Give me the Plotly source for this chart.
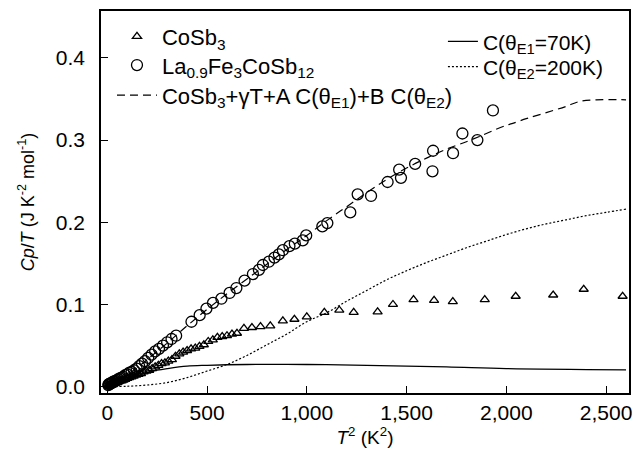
import plotly.graph_objects as go

# CoSb3 data (triangles)
cosb3_x = [5, 8, 12, 16, 20, 25, 30, 36, 42, 49, 56, 64, 72, 81, 90, 100, 110, 121, 132, 144,
           156, 169, 182, 196, 210, 225, 240, 256, 272, 289, 306, 324, 342, 361, 380, 400, 420,
           441, 462, 484, 506, 529, 552, 576, 600, 625, 650, 685, 725, 768, 817, 880, 938, 1000,
           1088, 1163, 1235, 1355, 1432, 1535, 1638, 1732, 1892, 2047, 2235, 2388, 2583]
cosb3_y = [0.001, 0.001, 0.002, 0.002, 0.003, 0.003, 0.004, 0.004, 0.005, 0.005, 0.006, 0.007,
           0.007, 0.008, 0.009, 0.010, 0.011, 0.012, 0.013, 0.014, 0.015, 0.016, 0.018, 0.019,
           0.020, 0.022, 0.024, 0.026, 0.028, 0.029, 0.031, 0.033, 0.037, 0.040, 0.042, 0.044,
           0.046, 0.047, 0.049, 0.051, 0.055, 0.057, 0.060, 0.061, 0.062, 0.064, 0.065, 0.071,
           0.072, 0.073, 0.074, 0.080, 0.082, 0.085, 0.0905, 0.093, 0.0905, 0.091, 0.100, 0.106,
           0.105, 0.1035, 0.106, 0.110, 0.1115, 0.1185, 0.110]

# La0.9Fe3CoSb12 data (circles)
la_x = [5, 8, 11, 15, 19, 24, 29, 35, 41, 48, 55, 63, 71, 80, 90, 100, 111, 122, 134, 147,
        160, 174, 189, 205, 222, 240, 259, 279, 300, 322, 345, 422, 463, 497, 530, 572, 613,
        647, 688, 730, 760, 780, 810, 838, 860, 880, 913, 940, 980, 997, 1078, 1103, 1218,
        1255, 1322, 1405, 1463, 1472, 1543, 1630, 1633, 1733, 1780, 1855, 1933]
la_y = [0.002, 0.003, 0.003, 0.004, 0.004, 0.005, 0.006, 0.006, 0.007, 0.008, 0.009, 0.010,
        0.011, 0.012, 0.014, 0.015, 0.017, 0.018, 0.020, 0.022, 0.025, 0.028, 0.031, 0.035,
        0.039, 0.043, 0.046, 0.050, 0.054, 0.058, 0.062, 0.079, 0.087, 0.095, 0.102, 0.107,
        0.114, 0.120, 0.129, 0.137, 0.142, 0.148, 0.152, 0.157, 0.161, 0.166, 0.171, 0.174,
        0.178, 0.184, 0.195, 0.199, 0.212, 0.234, 0.232, 0.249, 0.264, 0.254, 0.271, 0.262,
        0.287, 0.284, 0.308, 0.300, 0.336]

# Fit: CoSb3 + gamma T + A C(thetaE1) + B C(thetaE2)
fit_x = [0, 50, 100, 150, 200, 300, 400, 500, 600, 700, 800, 900, 1000, 1100, 1200, 1300,
         1400, 1500, 1600, 1700, 1800, 1862, 1900, 2000, 2028, 2100, 2195, 2300, 2363, 2450, 2600]
fit_y = [0.002, 0.008, 0.015, 0.023, 0.033, 0.053, 0.074, 0.094, 0.113, 0.131, 0.149, 0.167,
         0.184, 0.202, 0.219, 0.236, 0.252, 0.266, 0.278, 0.289, 0.298, 0.304, 0.308, 0.318,
         0.320, 0.326, 0.333, 0.341, 0.3467, 0.349, 0.349]

# Einstein term theta_E1 = 70 K
e1_x = [0, 50, 100, 150, 200, 250, 300, 400, 500, 700, 1000, 1300, 1700, 2000, 2600]
e1_y = [0.0, 0.003, 0.008, 0.013, 0.017, 0.020, 0.022, 0.025, 0.026, 0.027, 0.027, 0.026,
        0.024, 0.022, 0.0205]

# Einstein term theta_E2 = 200 K
e2_x = [0, 100, 200, 300, 400, 500, 600, 700, 800, 900, 1000, 1100, 1200, 1300, 1400, 1500,
        1600, 1700, 1800, 1900, 2000, 2100, 2200, 2300, 2400, 2500, 2600]
e2_y = [0.0, 0.0005, 0.002, 0.005, 0.011, 0.019, 0.027, 0.038, 0.051, 0.064, 0.079, 0.090,
        0.104, 0.117, 0.130, 0.141, 0.151, 0.160, 0.169, 0.177, 0.185, 0.192, 0.198, 0.203,
        0.208, 0.212, 0.216]

x_ticks = [0, 500, 1000, 1500, 2000, 2500]
x_tick_text = ["0", "500", "1,000", "1,500", "2,000", "2,500"]
y_ticks = [0.0, 0.1, 0.2, 0.3, 0.4]
y_tick_text = ["0.0", "0.1", "0.2", "0.3", "0.4"]

FONT = "Arial, Liberation Sans, sans-serif"
FS = 21
LFS = 22

fig = go.Figure()
fig.add_trace(go.Scatter(x=cosb3_x, y=cosb3_y, mode="markers", name="CoSb<sub>3</sub>",
                         marker=dict(symbol="triangle-up-open", size=8, color="black",
                                     line=dict(width=1.3, color="black")),
                         legend="legend", showlegend=True))
fig.add_trace(go.Scatter(x=la_x, y=la_y, mode="markers",
                         name="La<sub>0.9</sub>Fe<sub>3</sub>CoSb<sub>12</sub>",
                         marker=dict(symbol="circle-open", size=11, color="black",
                                     line=dict(width=1.3, color="black")),
                         legend="legend3", showlegend=True))
fig.add_trace(go.Scatter(x=fit_x, y=fit_y, mode="lines",
                         name="CoSb<sub>3</sub>+γT+A C(θ<sub>E1</sub>)+B C(θ<sub>E2</sub>)",
                         line=dict(color="black", width=1.2, dash="8px,5px"),
                         line_shape="spline", legend="legend4", showlegend=True))
fig.add_trace(go.Scatter(x=e1_x, y=e1_y, mode="lines", name="C(θ<sub>E1</sub>=70K)",
                         line=dict(color="black", width=1.3), line_shape="spline",
                         legend="legend2", showlegend=True))
fig.add_trace(go.Scatter(x=e2_x, y=e2_y, mode="lines", name="C(θ<sub>E2</sub>=200K)",
                         line=dict(color="black", width=1.2, dash="2px,2px"),
                         line_shape="spline", legend="legend5", showlegend=True))

axis_common = dict(showline=True, linecolor="black", linewidth=1.5, mirror=True,
                   ticks="inside", ticklen=7, tickwidth=1.3, tickcolor="black",
                   showgrid=False, zeroline=False,
                   tickfont=dict(family=FONT, size=FS, color="black"))


def leg(x, y, iw=30, fs=LFS):
    return dict(x=x, y=y, xanchor="left", yanchor="top", bgcolor="rgba(0,0,0,0)",
                font=dict(family=FONT, size=fs), itemwidth=iw, visible=True)


fig.update_layout(
    width=633, height=450,
    margin=dict(l=101, r=2, t=11, b=57),
    paper_bgcolor="white", plot_bgcolor="white",
    showlegend=True,
    font=dict(family=FONT, size=FS, color="black"),
    xaxis=dict(range=[-31.5, 2615], tickvals=x_ticks, ticktext=x_tick_text,
               ticklabelstandoff=0,
               title=dict(text="<i>T</i><sup>2</sup> (K<sup>2</sup>)", standoff=4,
                          font=dict(family=FONT, size=19)),
               **axis_common),
    yaxis=dict(range=[-0.0077, 0.457], tickvals=y_ticks, ticktext=y_tick_text,
               ticklabelstandoff=10,
               title=dict(text="<i>Cp</i>/<i>T</i> (J K<sup>-2</sup> mol<sup>-1</sup>)",
                          standoff=17, font=dict(family=FONT, size=18)),
               **axis_common),
    legend=leg(0.0208, 0.988, 40),
    legend3=leg(0.0208, 0.913, 40),
    legend4=leg(0.0208, 0.834, 40),
    legend2=leg(0.6476, 0.973, 30, 21),
    legend5=leg(0.6476, 0.907, 30, 21),
)

fig.write_html("out.html")
